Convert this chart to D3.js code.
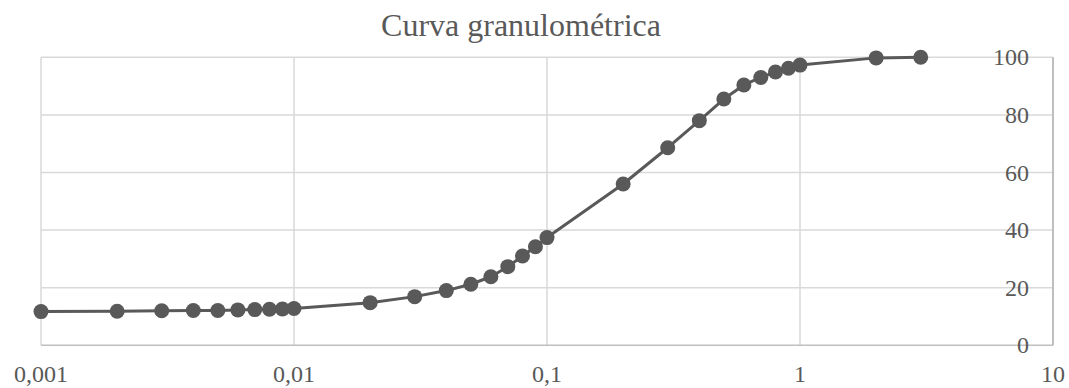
<!DOCTYPE html>
<html>
<head>
<meta charset="utf-8">
<script src="https://cdn.jsdelivr.net/npm/d3@7"></script>
<style>
html,body{margin:0;padding:0;background:#fff;}
svg{display:block;}
svg text{font-family:"Liberation Serif","Times New Roman","DejaVu Serif",serif;}
</style>
</head>
<body>
<svg id="chart" width="1069" height="388"></svg>
<script>
const sizes = [0.001,0.002,0.003,0.004,0.005,0.006,0.007,0.008,0.009,0.01,
  0.02,0.03,0.04,0.05,0.06,0.07,0.08,0.09,0.1,
  0.2,0.3,0.4,0.5,0.6,0.7,0.8,0.9,1,2,3];
const passing = [11.7,11.8,12.0,12.1,12.1,12.3,12.4,12.5,12.6,12.8,
  14.8,16.9,19.0,21.2,23.8,27.3,31.0,34.2,37.4,
  56.0,68.6,78.0,85.5,90.4,93.0,94.9,96.2,97.3,99.8,100];
const xTicks = [0.001,0.01,0.1,1,10];
const xTickLabels = ["0,001","0,01","0,1","1","10"];
const yTicks = [0,20,40,60,80,100];
const title = "Curva granulométrica";

const svg = d3.select("#chart");
const col = "#595959";
const x = d3.scaleLog().domain([0.001,10]).range([41,1053]);
const y = d3.scaleLinear().domain([0,100]).range([345.3,57.3]);

svg.append("g").selectAll("line").data(yTicks.filter(d=>d>0)).join("line")
  .attr("x1",x(0.001)).attr("x2",x(10))
  .attr("y1",d=>y(d)).attr("y2",d=>y(d))
  .attr("stroke","#d9d9d9").attr("stroke-width",1.5);
svg.append("g").selectAll("line").data(xTicks.slice(0,-1)).join("line")
  .attr("x1",d=>x(d)).attr("x2",d=>x(d))
  .attr("y1",y(0)).attr("y2",y(100))
  .attr("stroke","#d9d9d9").attr("stroke-width",1.5);
svg.append("line").attr("x1",x(0.001)).attr("x2",x(10))
  .attr("y1",y(0)).attr("y2",y(0)).attr("stroke","#bfbfbf").attr("stroke-width",1.5);
svg.append("line").attr("x1",x(10)).attr("x2",x(10))
  .attr("y1",y(0)).attr("y2",y(100)).attr("stroke","#bfbfbf").attr("stroke-width",2);

svg.append("g").selectAll("text").data(yTicks).join("text")
  .attr("x",1029).attr("y",d=>y(d)+8)
  .attr("text-anchor","end")
  .attr("font-size",24).attr("fill",col)
  .text(d=>d);
svg.append("g").selectAll("text").data(xTicks).join("text")
  .attr("x",d=>x(d)).attr("y",382)
  .attr("text-anchor","middle")
  .attr("font-size",24).attr("fill",col)
  .text((d,i)=>xTickLabels[i]);

svg.append("text").attr("x",521).attr("y",36)
  .attr("text-anchor","middle")
  .attr("font-size",32).attr("fill",col)
  .text(title);

const data = sizes.map((s,i)=>({s,p:passing[i]}));
svg.append("path").datum(data)
  .attr("fill","none").attr("stroke",col).attr("stroke-width",3)
  .attr("stroke-linejoin","round")
  .attr("d",d3.line().x(d=>x(d.s)).y(d=>y(d.p)));
svg.append("g").selectAll("circle").data(data).join("circle")
  .attr("cx",d=>x(d.s)).attr("cy",d=>y(d.p)).attr("r",7.5)
  .attr("fill",col);
</script>
</body>
</html>
